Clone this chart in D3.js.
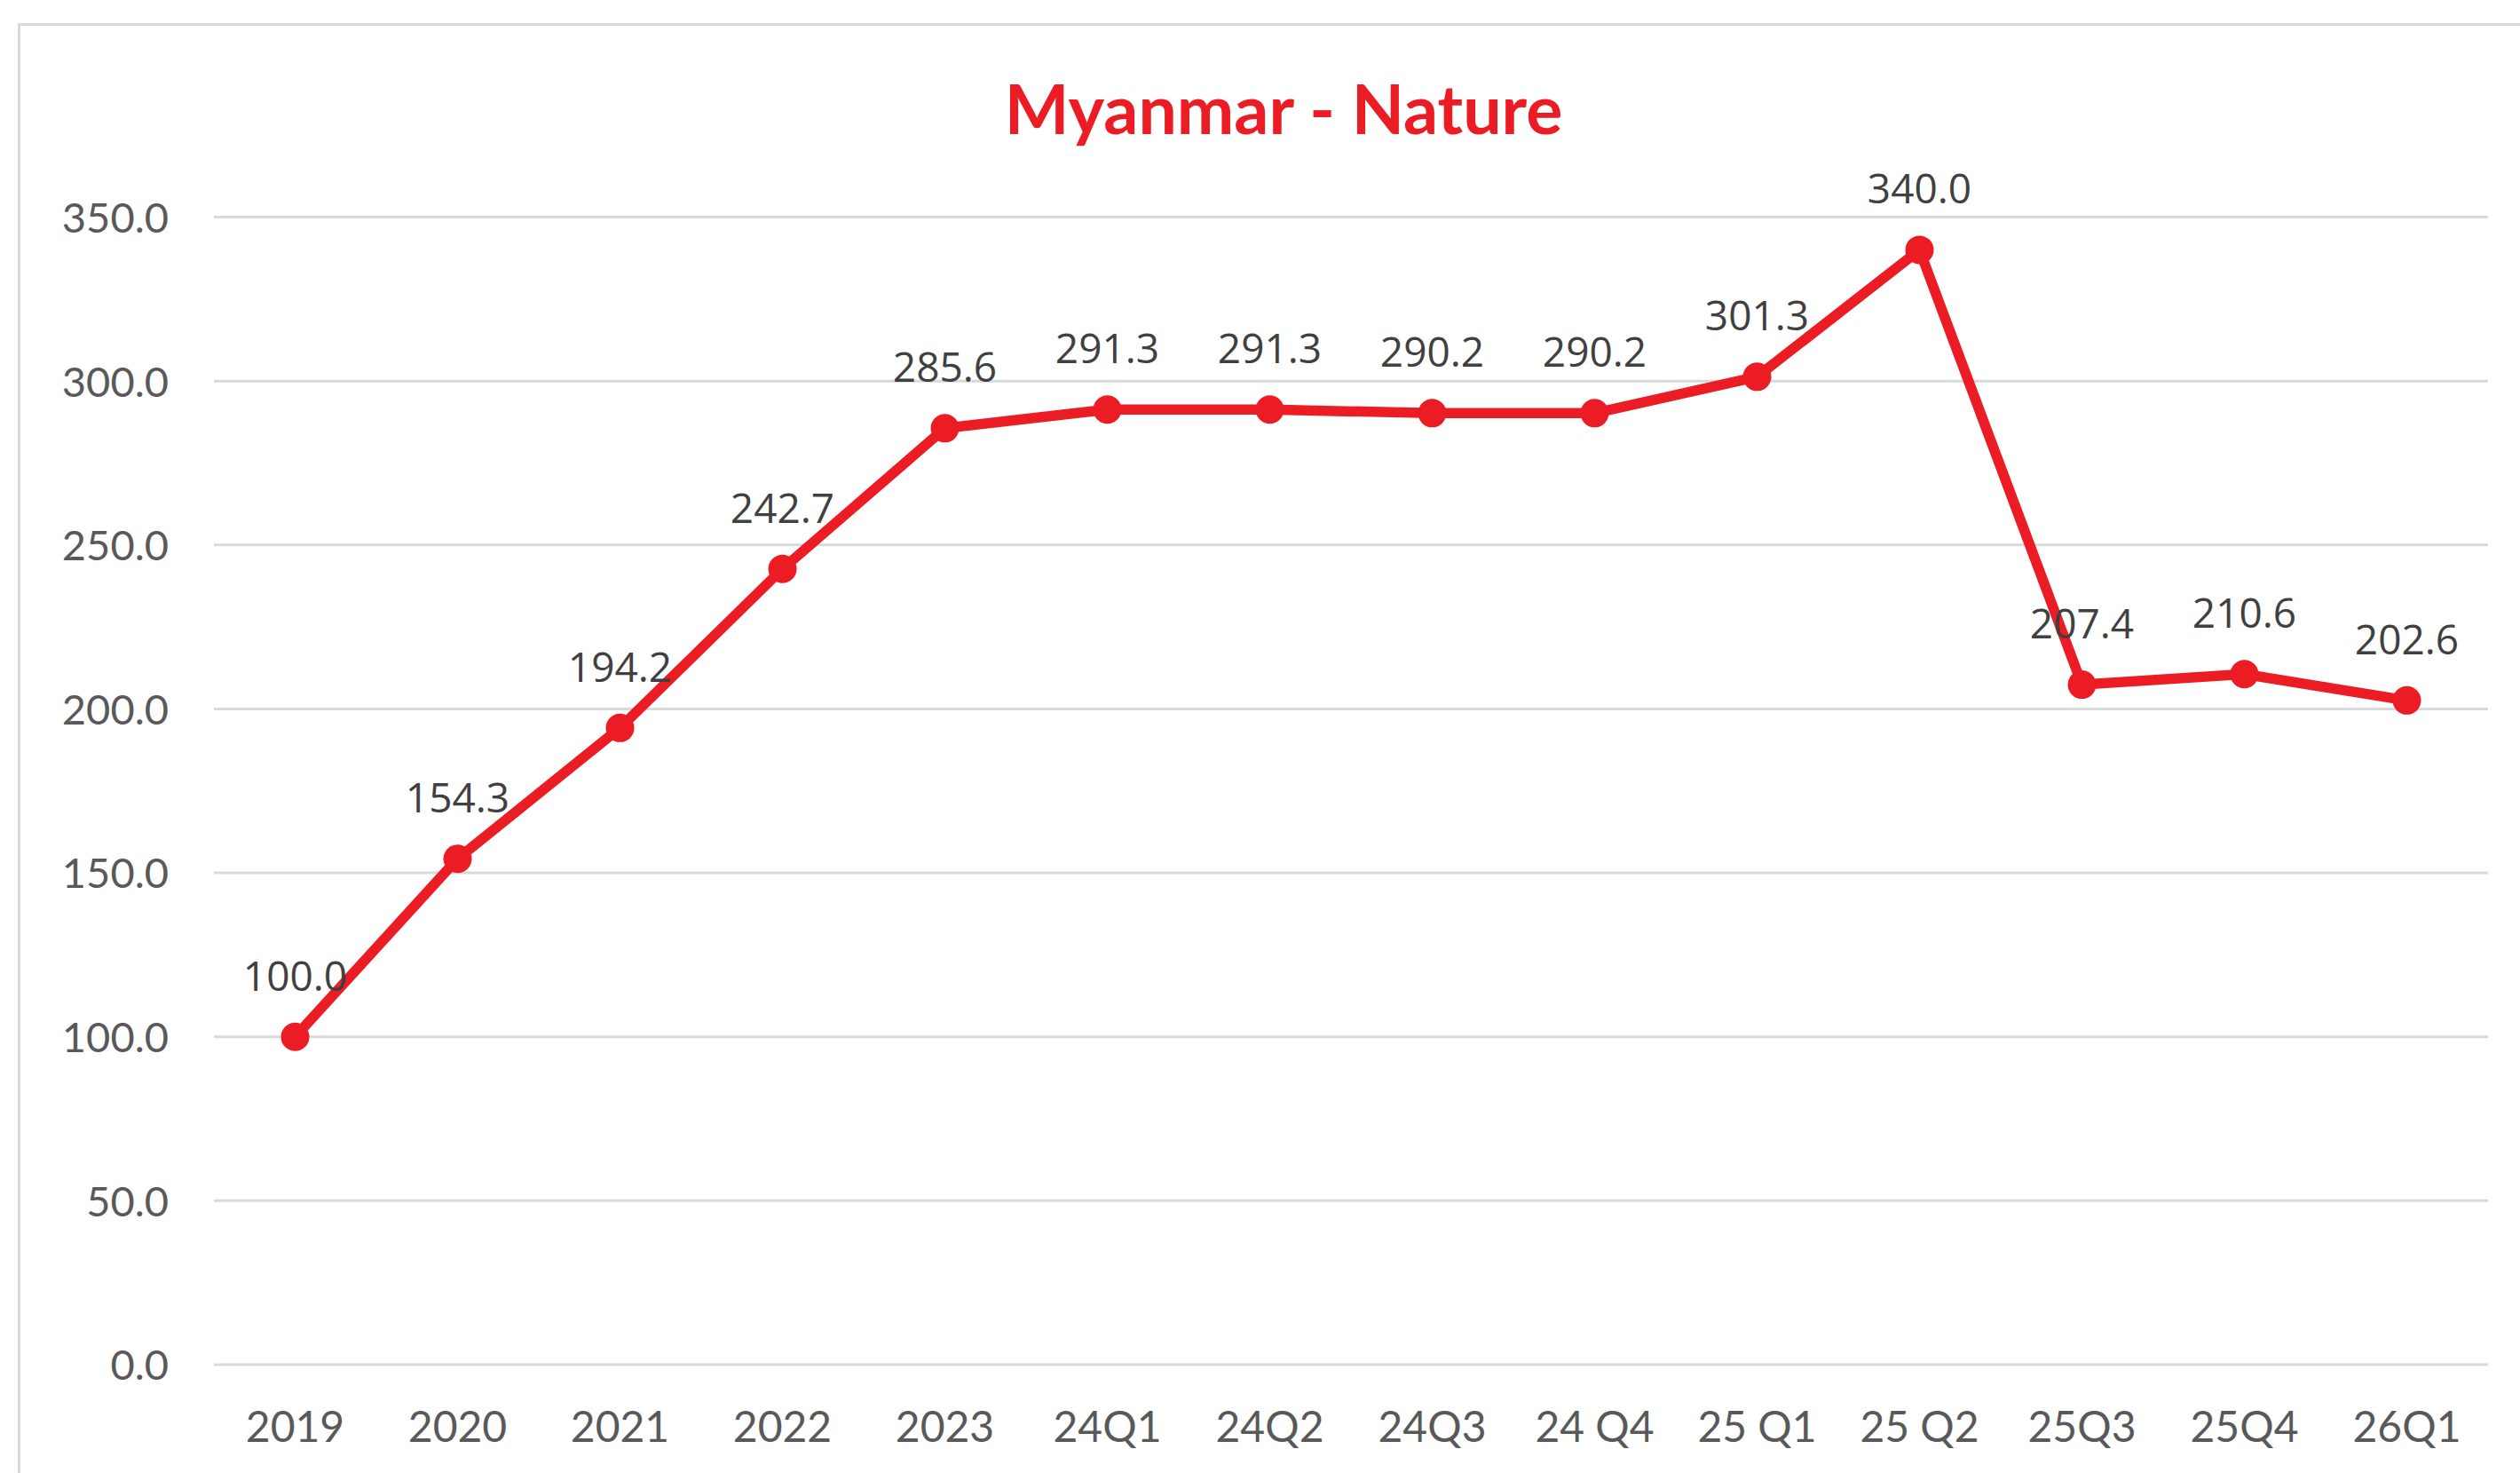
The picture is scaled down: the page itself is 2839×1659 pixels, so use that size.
<!DOCTYPE html>
<html>
<head>
<meta charset="utf-8">
<script src="https://cdn.jsdelivr.net/npm/d3@7"></script>
<style>
  html, body { margin: 0; padding: 0; background: #fff; }
  svg { display: block; }
  .tick-label { font-family: Lato, "Open Sans", sans-serif; fill: #595959; }
  .data-label { font-family: "Open Sans", sans-serif; fill: #404040; }
</style>
</head>
<body>
<div id="chart"></div>
<script>
var categories = ["2019", "2020", "2021", "2022", "2023", "24Q1", "24Q2", "24Q3", "24 Q4", "25 Q1", "25 Q2", "25Q3", "25Q4", "26Q1"];
var values = [100.0, 154.3, 194.2, 242.7, 285.6, 291.3, 291.3, 290.2, 290.2, 301.3, 340.0, 207.4, 210.6, 202.6];
var yTicks = [0, 50, 100, 150, 200, 250, 300, 350];
var title = "Myanmar - Nature";

var W = 2839, H = 1659;
var red = "#ec1c24";

var svg = d3.select("#chart").append("svg")
    .attr("width", W)
    .attr("height", H);

// outer chart frame (cut off at right and bottom like the screenshot)
svg.append("rect")
    .attr("x", 21.5)
    .attr("y", 27.5)
    .attr("width", W + 20)
    .attr("height", H + 20)
    .attr("fill", "#fff")
    .attr("stroke", "#d9d9d9")
    .attr("stroke-width", 3);

var x = d3.scaleBand()
    .domain(categories)
    .range([241, 2803]);

var y = d3.scaleLinear()
    .domain([0, 350])
    .range([1537, 244.5]);

// gridlines
svg.append("g").selectAll("line")
    .data(yTicks)
  .enter().append("line")
    .attr("x1", x.range()[0])
    .attr("x2", x.range()[1])
    .attr("y1", function(d) { return y(d); })
    .attr("y2", function(d) { return y(d); })
    .attr("stroke", "#d9d9d9")
    .attr("stroke-width", 3);

// y axis labels
var yAxis = d3.axisLeft(y)
    .tickValues(yTicks)
    .tickFormat(d3.format(".1f"))
    .tickSize(0)
    .tickPadding(0);

var gy = svg.append("g")
    .attr("transform", "translate(190,0)")
    .call(yAxis);
gy.select(".domain").remove();
gy.selectAll("text")
    .attr("class", "tick-label")
    .attr("dy", "0.36em")
    .style("font-size", "47px");

// x axis labels
var xAxis = d3.axisBottom(x)
    .tickSize(0)
    .tickPadding(0);

var gx = svg.append("g")
    .attr("transform", "translate(0,1590)")
    .call(xAxis);
gx.select(".domain").remove();
gx.selectAll("text")
    .attr("class", "tick-label")
    .attr("dy", "0.7em")
    .style("font-size", "48px");

function cx(i) { return x(categories[i]) + x.bandwidth() / 2; }

var line = d3.line()
    .x(function(d, i) { return cx(i); })
    .y(function(d) { return y(d); });

svg.append("path")
    .datum(values)
    .attr("d", line)
    .attr("fill", "none")
    .attr("stroke", red)
    .attr("stroke-width", 11.5)
    .attr("stroke-linejoin", "round");

svg.append("g").selectAll("circle")
    .data(values)
  .enter().append("circle")
    .attr("cx", function(d, i) { return cx(i); })
    .attr("cy", function(d) { return y(d); })
    .attr("r", 16)
    .attr("fill", red);

svg.append("g").selectAll("text")
    .data(values)
  .enter().append("text")
    .attr("class", "data-label")
    .attr("x", function(d, i) { return cx(i); })
    .attr("y", function(d) { return y(d) - 52; })
    .attr("text-anchor", "middle")
    .style("font-size", "46px")
    .text(function(d) { return d3.format(".1f")(d); });

svg.append("text")
    .attr("x", 1446)
    .attr("y", 151)
    .attr("text-anchor", "middle")
    .style("font-family", "Lato, 'Open Sans', sans-serif")
    .style("font-weight", "bold")
    .style("font-size", "77px")
    .attr("fill", red)
    .text(title);
</script>
</body>
</html>
